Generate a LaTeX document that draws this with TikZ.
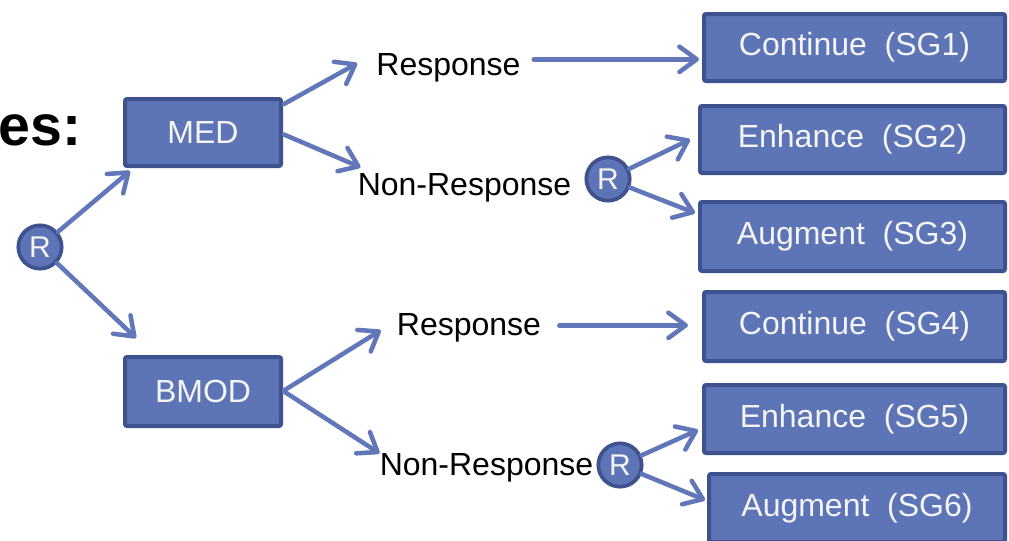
\documentclass[tikz,border=0pt]{standalone}
\usepackage{fontspec}
\setmainfont{Liberation Sans}
\usetikzlibrary{arrows.meta,calc}
\definecolor{boxfill}{HTML}{5D74B6}
\definecolor{boxline}{HTML}{3F5290}
\definecolor{arrowc}{HTML}{6277BA}
\definecolor{boxtext}{HTML}{F5F5F5}
\begin{document}
\begin{tikzpicture}[x=0.75pt,y=-0.75pt,
  stage/.style={draw=boxline, fill=boxfill, line width=3pt, rounded corners=1.5pt,
    text=boxtext, font=\fontsize{24}{28}\selectfont, inner sep=0pt},
  rnode/.style={circle, draw=boxline, fill=boxfill, line width=2.8pt, text=boxtext,
    minimum size=32.5pt, inner sep=0pt, font=\fontsize{22.5}{26}\selectfont},
  lbl/.style={font=\fontsize{24}{28}\selectfont, text=black, inner sep=0pt, anchor=base},
  link/.style={draw=arrowc, line width=3.4pt, line cap=round,
    -{Straight Barb[length=13pt,width=19pt,round]}},
]
\useasboundingbox (0,0) rectangle (1009,540);

% heading fragment
\node[font=\fontsize{43}{50}\selectfont\bfseries, anchor=base east, inner sep=0pt] (head) at (82,145) {es:};

% randomisation points
\node[rnode] (root) at (40,247) {R};
\node[rnode] (rmid) at (608,179) {R};
\node[rnode] (rbot) at (620,465) {R};

% first-stage treatments
\node[stage, minimum width=117pt, minimum height=50.25pt] (med)  at (203,132.5) {MED};
\node[stage, minimum width=117pt, minimum height=51.75pt] (bmod) at (203,391.5) {BMOD};

% outcome labels
\node[lbl] (resp1)    at (448.5,75)  {Response};
\node[lbl] (nonresp1) at (464.5,195) {Non-Response};
\node[lbl] (resp2)    at (469,335)   {Response};
\node[lbl] (nonresp2) at (486.5,475) {Non-Response};

% second-stage groups
\node[stage, minimum width=225.75pt, minimum height=50.25pt] (sg1) at (854.5,47.5)  {Continue~~(SG1)};
\node[stage, minimum width=228.75pt, minimum height=50.25pt] (sg2) at (852.5,139.5) {Enhance~~(SG2)};
\node[stage, minimum width=228.75pt, minimum height=51.75pt] (sg3) at (852.5,236.5) {Augment~~(SG3)};
\node[stage, minimum width=225.75pt, minimum height=51.75pt] (sg4) at (854.5,326.5) {Continue~~(SG4)};
\node[stage, minimum width=225.75pt, minimum height=51pt]    (sg5) at (854.5,419)   {Enhance~~(SG5)};
\node[stage, minimum width=222pt,    minimum height=51pt]    (sg6) at (857,508)     {Augment~~(SG6)};

% first randomisation
\draw[link] (root) -- ($(med.south west)+(7,3)$);
\draw[link] (root) -- ($(bmod.north west)+(13,-17)$);

% MED branch
\draw[link] ($(med.north east)+(1,7)$) -- ($(resp1.west)+(-19,-4)$);
\draw[link] ($(med.east)+(1,2)$) -- ($(nonresp1.west)+(3,-20)$);
\draw[link] ($(resp1.east)+(13,-8)$) coordinate (a1) -- ($(a1 -| sg1.west)+(-3,0)$);
\draw[link] (rmid) -- ($(sg2.west)+(-8,0)$);
\draw[link] (rmid) -- ($(sg3.north west)+(-3,13)$);

% BMOD branch
\draw[link] ($(bmod.east)+(1,-1)$) -- ($(resp2.west)+(-16,3)$);
\draw[link] ($(bmod.east)+(1,0)$) -- ($(nonresp2.west)+(0,-14)$);
\draw[link] ($(resp2.east)+(18,-2)$) coordinate (a2) -- ($(a2 -| sg4.west)+(-14,0)$);
\draw[link] (rbot) -- ($(sg5.west)+(-4,11)$);
\draw[link] (rbot) -- ($(sg6.north west)+(-2,28)$);
\end{tikzpicture}
\end{document}
